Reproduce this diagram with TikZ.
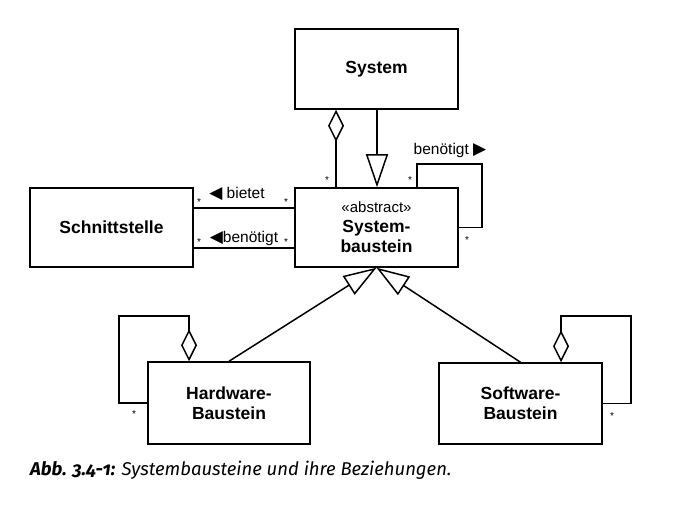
\documentclass[tikz,border=0pt]{standalone}
\usepackage{fontspec}
\setmainfont{Liberation Sans}
\newfontfamily\capfont[Numbers=OldStyle]{Fira Sans}
\newfontfamily\symfont{DejaVu Sans}
\usetikzlibrary{arrows.meta}

\begin{document}
\begin{tikzpicture}[x=1pt, y=-1pt,
    box/.style={rectangle, draw=black, line width=1.5pt, minimum width=163pt,
                minimum height=80pt, align=center, inner sep=0pt,
                font=\fontsize{17.5}{20}\selectfont\bfseries},
    line/.style={line width=1.5pt},
    gen/.style={-{Triangle[open, length=33pt, width=22pt]}, line width=1.5pt},
    aggr/.style={{Diamond[open, length=32pt, width=16pt]}-, line width=1.5pt},
    lbl/.style={font=\fontsize{15.5}{18}\selectfont, inner sep=0pt},
    mult/.style={font=\fontsize{10}{10}\selectfont, inner sep=0pt},
  ]
  \useasboundingbox (0,0) rectangle (683,508);

  \node[box] (sys) at (376.5,69) {System};
  \node[box, minimum height=79pt] (sysb) at (376.5,227.5)
    {{\mdseries\fontsize{15}{18}\selectfont «abstract»}\\System-\\baustein};
  \node[box, minimum height=79pt] (schnitt) at (111.5,227.5) {Schnittstelle};
  \node[box, minimum width=162pt, minimum height=82pt] (hw) at (229,403) {Hardware-\\Baustein};
  \node[box, minimum height=81pt] (sw) at (520.5,403.5) {Software-\\Baustein};

  \coordinate (sysloop) at (482,164);
  \coordinate (hwloop) at (119,316);
  \coordinate (swloop) at (631,316);

  % System and its building blocks
  \draw[aggr] ([xshift=-40.5pt]sys.south) -- ([xshift=-40.5pt]sysb.north);
  \draw[gen] ([xshift=0.5pt]sys.south) -- ([xshift=0.5pt]sysb.north);
  \draw[line] ([xshift=40.5pt]sysb.north) |- (sysloop) |- (sysb.east);

  % interface
  \draw[line] ([yshift=19.5pt]schnitt.east) -- ([yshift=19.5pt]sysb.west);
  \draw[line] ([yshift=-20.5pt]schnitt.east) -- ([yshift=-20.5pt]sysb.west);

  % hardware / software
  \draw[gen] (hw.north) -- (sysb.south);
  \draw[gen] (sw.north) -- (sysb.south);
  \draw[aggr] ([xshift=-40pt]hw.north) |- (hwloop) |- (hw.west);
  \draw[aggr] ([xshift=40.5pt]sw.north) |- (swloop) |- (sw.east);

  \node[lbl] (bietet) at (237,194) {{\symfont\fontsize{17}{18}\selectfont ◀} bietet};
  \node[lbl] (benoetigt) at (244,238) {{\symfont\fontsize{17}{18}\selectfont ◀}benötigt};
  \node[lbl] (benoetigtloop) at (450,150) {benötigt {\symfont\fontsize{17}{18}\selectfont ▶}};

  \node[mult] (m1) at (199,202) {*};
  \node[mult] (m2) at (286,202) {*};
  \node[mult] (m3) at (199,242) {*};
  \node[mult] (m4) at (286,242) {*};
  \node[mult] (m5) at (327,180) {*};
  \node[mult] (m6) at (410,180) {*};
  \node[mult] (m7) at (467,240) {*};
  \node[mult] (m8) at (134,414) {*};
  \node[mult] (m9) at (612,416) {*};

  \node[anchor=base west, inner sep=0pt, font=\capfont\fontsize{18.5}{20}\selectfont\itshape]
    (caption) at (30,475) {\textbf{Abb. 3.4-1:} Systembausteine und ihre Beziehungen.};
\end{tikzpicture}
\end{document}
